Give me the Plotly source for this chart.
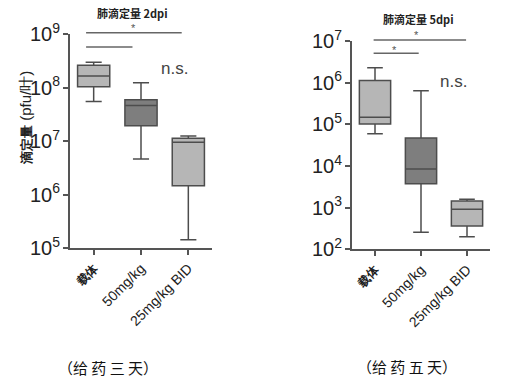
import plotly.graph_objects as go

categories = ["载体", "50mg/kg", "25mg/kg BID"]
tick_labels = ["<span style='font-size:12px'><b>载体</b></span>", "50mg/kg", "25mg/kg BID"]

# Day 2 (left panel) box statistics (pfu/lobe)
d2_upper = [2.95e8, 1.23e8, 1.24e7]
d2_q3 = [2.6e8, 5.9e7, 1.12e7]
d2_median = [1.64e8, 4.6e7, 9.5e6]
d2_q1 = [1.03e8, 1.93e7, 1.46e6]
d2_lower = [5.5e7, 4.6e6, 1.43e5]

# Day 5 (right panel) box statistics
d5_upper = [2.29e6, 6.4e5, 1.6e3]
d5_q3 = [1.12e6, 4.7e4, 1.45e3]
d5_median = [1.48e5, 8.5e3, 9.1e2]
d5_q1 = [1.02e5, 3.76e3, 3.6e2]
d5_lower = [5.96e4, 2.57e2, 2.0e2]

fills = ["#b6b6b6", "#7e7e7e", "#b6b6b6"]
line_col = "#4d4d4d"
axis_col = "#555555"

fig = go.Figure()

def add_boxes(xa, ya, up, q3, med, q1, lo):
    for i, c in enumerate(categories):
        fig.add_trace(go.Box(
            x=[c], q1=[q1[i]], median=[med[i]], q3=[q3[i]],
            lowerfence=[lo[i]], upperfence=[up[i]],
            xaxis=xa, yaxis=ya, width=0.68, whiskerwidth=0.5,
            fillcolor=fills[i], line=dict(color=line_col, width=1.5),
            boxpoints=False, showlegend=False, hoverinfo="skip"))

add_boxes("x", "y", d2_upper, d2_q3, d2_median, d2_q1, d2_lower)
add_boxes("x2", "y2", d5_upper, d5_q3, d5_median, d5_q1, d5_lower)

W, H = 523, 384
SANS = "Liberation Sans"
tickfont = dict(family=SANS, size=16, color="#222")
xtickfont = dict(family=SANS, size=14, color="#222")

xcommon = dict(type="category", categoryorder="array", categoryarray=categories,
               tickmode="array", tickvals=categories, ticktext=tick_labels,
               range=[-0.5, 2.5], showline=True, linecolor=axis_col, linewidth=1.5,
               ticks="outside", ticklen=5, tickcolor=axis_col, tickwidth=1.5,
               tickangle=-45, tickfont=xtickfont, showgrid=False, zeroline=False,
               automargin=False)
ycommon = dict(type="log", dtick=1, exponentformat="power", showline=True,
               linecolor=axis_col, linewidth=1.5, ticks="outside", ticklen=5,
               tickcolor=axis_col, tickwidth=1.5, tickfont=tickfont,
               showgrid=False, zeroline=False, automargin=False)

fig.update_layout(
    template="none",
    width=W, height=H, margin=dict(l=0, r=0, t=0, b=0, pad=0),
    paper_bgcolor="white", plot_bgcolor="white", boxmode="overlay",
    xaxis=dict(domain=[70 / W, 212 / W], anchor="y", **xcommon),
    yaxis=dict(domain=[1 - 248 / H, 1 - 34 / H], anchor="x", range=[5, 9], **ycommon),
    xaxis2=dict(domain=[352 / W, 490 / W], anchor="y2", **xcommon),
    yaxis2=dict(domain=[1 - 249.3 / H, 1 - 41 / H], anchor="x2", range=[2, 7], **ycommon),
)

sig_col = "#666666"
# significance bars (x in category units, y in paper)
def sig(xref, x0, x1, py):
    fig.add_shape(type="line", xref=xref, yref="paper", x0=x0, x1=x1,
                  y0=1 - py / H, y1=1 - py / H, line=dict(color=sig_col, width=1.5))

sig("x", -0.16, 1.86, 32.7)
sig("x", -0.16, 0.82, 47)
sig("x2", -0.03, 1.98, 40)
sig("x2", -0.03, 0.95, 53.3)

ann = []
def text(x, y, s, size, xref="paper", color="#222", family=SANS, angle=0):
    ann.append(dict(x=x, y=y, xref=xref, yref="paper", text=s, showarrow=False,
                    font=dict(size=size, color=color, family=family), textangle=angle,
                    xanchor="center", yanchor="middle"))

text(0.85, 1 - 28 / H, "*", 11, xref="x", color="#555")
text(0.90, 1 - 35 / H, "*", 11, xref="x2", color="#555")
text(0.42, 1 - 49.5 / H, "*", 11, xref="x2", color="#555")
text(174 / W, 1 - 68 / H, "n.s.", 17, color="#444")
text(453 / W, 1 - 82 / H, "n.s.", 17, color="#444")
text(132 / W, 1 - 13 / H, "<b>肺滴定量 2dpi</b>", 11, family="Noto Sans CJK SC")
text(418 / W, 1 - 19 / H, "<b>肺滴定量 5dpi</b>", 11, family="Noto Sans CJK SC")
text(25 / W, 1 - 118 / H, "<span style='font-size:13px'><b>滴定量</b></span> (pfu/叶)", 15, angle=-90)
text(108 / W, 1 - 367 / H, "（给 药 三 天）", 15, family="Noto Sans CJK SC", color="#111")
text(407 / W, 1 - 366 / H, "（给 药 五 天）", 15, family="Noto Sans CJK SC", color="#111")
fig.update_layout(annotations=ann)

fig.write_html("out.html", config={"displayModeBar": False},
               post_script="document.body.style.margin='0';document.body.style.overflow='hidden';")
